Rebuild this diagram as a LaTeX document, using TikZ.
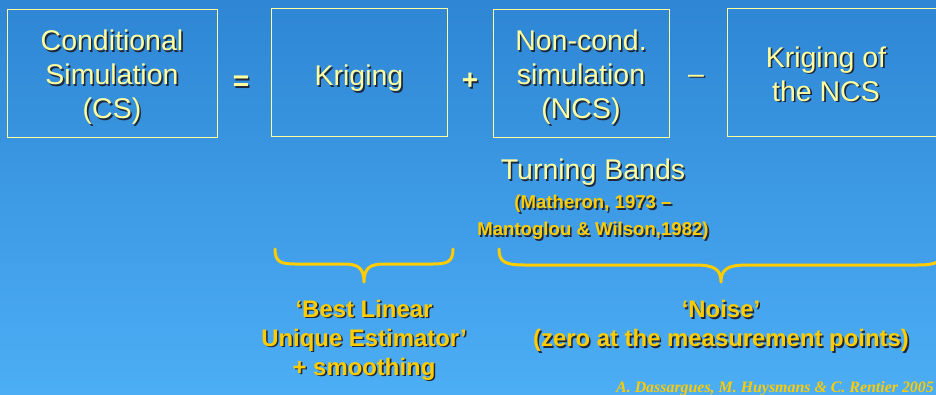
\documentclass[tikz,border=0pt]{standalone}
\usepackage{fontspec}
\setmainfont{Liberation Sans}
\newfontfamily\creditfont{Liberation Serif}
\definecolor{bgtop}{RGB}{46,134,212}
\definecolor{bgbot}{RGB}{76,174,245}
\definecolor{paleyel}{RGB}{255,255,160}
\definecolor{gold}{RGB}{255,204,0}
\definecolor{shadowc}{RGB}{30,40,60}
% text with a small dark drop shadow
\newcommand\shd[1]{\leavevmode\rlap{\kern1.6pt\raisebox{-1.6pt}{\color{shadowc}#1}}#1}
\tikzset{
  box/.style={draw=paleyel, line width=1pt, inner sep=0pt},
  bigtxt/.style={text=paleyel, align=center, inner sep=0pt,
    font=\fontsize{28.5}{34}\selectfont},
  optxt/.style={text=paleyel, inner sep=0pt, font=\bfseries\fontsize{28}{30}\selectfont},
  reftxt/.style={text=gold, align=center, inner sep=0pt,
    font=\bfseries\fontsize{18.6}{27}\selectfont},
  labtxt/.style={text=gold, align=center, inner sep=0pt,
    font=\bfseries\fontsize{23.9}{29}\selectfont},
  brace/.style={draw=gold, line width=3pt, line cap=round, line join=round},
}
\begin{document}
\begin{tikzpicture}[x=1pt,y=-1pt]
\useasboundingbox (0,0) rectangle (936,394);
\clip (0,0) rectangle (936,394);
\shade[top color=bgtop, bottom color=bgbot] (0,0) rectangle (936,394);

% the four terms of the decomposition
\node[box, minimum width=210pt, minimum height=128pt] (cs) at (112,73) {};
\node[box, minimum width=176pt, minimum height=128pt] (kr) at (359,72) {};
\node[box, minimum width=176pt, minimum height=128pt] (ncs) at (581,73) {};
\node[box, minimum width=220pt, minimum height=128pt] (kncs) at (837,72) {};

\node[bigtxt] (cstxt) at (112,78) {\shd{Conditional}\\\shd{Simulation}\\\shd{(CS)}};
\node[bigtxt] (krtxt) at (359,79) {\shd{Kriging}};
\node[bigtxt] (ncstxt) at (581,78) {\shd{Non-cond.}\\\shd{simulation}\\\shd{(NCS)}};
\node[bigtxt] (knctxt) at (826,75) {\shd{Kriging of}\\\shd{the NCS}};

% operators between the terms
\node[optxt] (eq) at (241,84) {\shd{=}};
\node[optxt] (plus) at (470,82) {\shd{+}};
\node[bigtxt] (minus) at (696,80) {\shd{–}};

% method used for the non-conditional simulation
\node[bigtxt] (tb) at (593,173) {\shd{Turning Bands}};
\node[reftxt] (tbref) at (593,218) {\shd{(Matheron, 1973 –}\\\shd{Mantoglou \& Wilson,1982)}};

% braces grouping the terms
\draw[brace] (275,249) .. controls (275,262) and (281,264) .. (295,264) -- (344,264)
  .. controls (358,264) and (364,268) .. (364,282)
  .. controls (364,268) and (370,264) .. (384,264) -- (433,264)
  .. controls (447,264) and (453,262) .. (453,249);
\draw[brace] (499,249) .. controls (499,262) and (505,265) .. (525,265) -- (695,265)
  .. controls (714,265) and (721,269) .. (721,282)
  .. controls (721,269) and (728,265) .. (747,265) -- (917,265)
  .. controls (937,265) and (943,262) .. (943,249);

\node[labtxt] (blue) at (364,341) {\shd{‘Best Linear}\\\shd{Unique Estimator’}\\\shd{+ smoothing}};
\node[labtxt] (noise) at (721,327) {\shd{‘Noise’}\\\shd{(zero at the measurement points)}};

% credit line
\node[text=gold, anchor=base east, inner sep=0pt,
  font=\creditfont\bfseries\itshape\fontsize{15.9}{18}\selectfont] (credit) at (934,392)
  {A. Dassargues, M. Huysmans \& C. Rentier 2005};
\end{tikzpicture}
\end{document}
